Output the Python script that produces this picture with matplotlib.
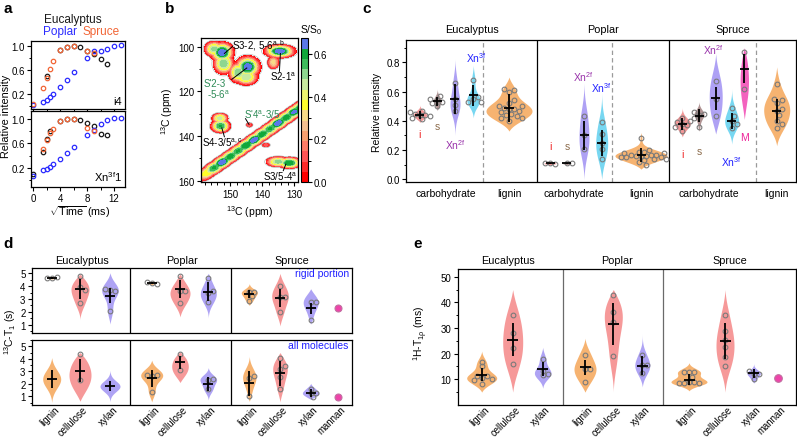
import numpy as np
import matplotlib
matplotlib.use('Agg')
import matplotlib.pyplot as plt
from matplotlib.colors import ListedColormap, BoundaryNorm
from matplotlib.ticker import MultipleLocator, FixedLocator
import matplotlib.transforms as mtrans

plt.rcParams['font.family'] = ['Liberation Sans', 'DejaVu Sans']
plt.rcParams['mathtext.fontset'] = 'custom'
plt.rcParams['mathtext.rm'] = 'Liberation Sans'
plt.rcParams['mathtext.it'] = 'Liberation Sans:italic'
plt.rcParams['mathtext.default'] = 'regular'
plt.rcParams['font.size'] = 7
plt.rcParams['axes.linewidth'] = 0.9

# ---------------- DATA ----------------
# panel a : build-up curves (x = sqrt(time))
a_x_i4_euc = [2, 4, 5, 6, 7, 8, 9, 10, 11]
a_i4_euc = [0.51, 0.93, 0.99, 1.0, 0.99, 0.92, 0.87, 0.79, 0.71]
a_x_i4_pop = [0, 1.5, 2, 2.5, 3, 4, 5, 6, 8, 9, 10, 11, 12, 13]
a_i4_pop = [0.02, 0.07, 0.10, 0.15, 0.20, 0.32, 0.44, 0.57, 0.81, 0.92, 0.92, 0.96, 1.0, 1.02]
a_x_i4_spr = [0, 1.5, 2, 2.5, 3, 4, 5, 6, 8, 9]
a_i4_spr = [0.03, 0.30, 0.47, 0.62, 0.75, 0.93, 0.99, 1.01, 0.92, 0.88]

a_x_xn_euc = [0, 1.5, 2, 2.5, 4, 5, 6, 7, 8, 9, 10, 11]
a_xn_euc = [0.11, 0.46, 0.67, 0.81, 0.97, 1.0, 1.0, 0.98, 0.94, 0.88, 0.75, 0.74]
a_x_xn_pop = [0, 1.5, 2, 2.5, 3, 4, 5, 6, 8, 9, 10, 11, 12, 13]
a_xn_pop = [0.065, 0.16, 0.19, 0.21, 0.26, 0.35, 0.44, 0.54, 0.74, 0.82, 0.92, 0.98, 1.01, 1.02]
a_x_xn_spr = [1.5, 2, 2.5, 3, 4, 5, 6, 8, 9]
a_xn_spr = [0.51, 0.66, 0.77, 0.84, 0.97, 1.0, 1.0, 0.86, 0.81]

# panel b : 2D spectrum peaks (ppm)
b_peak_x = [152.5, 155.0, 152.0, 134.5, 137.0, 136.5, 144.5, 147.5, 145.0, 153.2, 153.0, 144.0, 138.8, 135.0, 131.5]
b_peak_y = [102.5, 101.0, 107.5, 102.0, 101.5, 107.0, 109.0, 111.5, 113.5, 132.0, 135.5, 135.0, 144.0, 151.5, 152.0]
b_peak_amp = [0.66, 0.50, 0.52, 0.66, 0.35, 0.30, 0.66, 0.52, 0.48, 0.45, 0.58, 0.12, 0.12, 0.50, 0.62]
b_peak_sx = [1.6, 1.3, 1.4, 2.1, 1.0, 0.8, 1.7, 1.3, 1.6, 1.1, 1.3, 0.5, 0.6, 1.6, 1.6]
b_peak_sy = [2.0, 1.5, 2.1, 1.3, 1.0, 1.3, 2.1, 2.0, 1.6, 1.0, 1.3, 0.5, 0.5, 1.0, 1.1]
b_diag_x = [157.3, 155.0, 152.5, 150.0, 147.5, 145.0, 142.5, 140.0, 137.5, 135.0, 132.5, 130.0, 128.0]
b_diag_amp = [0.38, 0.58, 0.66, 0.60, 0.58, 0.62, 0.66, 0.60, 0.58, 0.66, 0.60, 0.64, 0.60]
b_diag_offset = -0.8

# panel c : relative intensity
c_sections = ['Eucalyptus', 'Poplar', 'Spruce']
c_groups = ['i', 's', 'Xn2f', 'Xn3f', 'lignin',
            'i', 's', 'Xn2f', 'Xn3f', 'lignin',
            'i', 's', 'Xn2f', 'Xn3f', 'M', 'lignin']
c_means = [0.44, 0.535, 0.55, 0.575, 0.49, 0.11, 0.11, 0.30, 0.25, 0.165,
           0.38, 0.435, 0.555, 0.40, 0.757, 0.47]
c_sds = [0.03, 0.03, 0.10, 0.07, 0.095, 0.005, 0.005, 0.10, 0.09, 0.048,
         0.042, 0.043, 0.08, 0.057, 0.10, 0.082]
c_points = [
    [0.41, 0.42, 0.43, 0.44, 0.44, 0.45, 0.46, 0.47],
    [0.50, 0.52, 0.53, 0.54, 0.55, 0.57],
    [0.66, 0.55, 0.51, 0.47],
    [0.68, 0.56, 0.55, 0.53, 0.53],
    [0.62, 0.61, 0.60, 0.54, 0.52, 0.50, 0.50, 0.49, 0.48, 0.48, 0.47, 0.46, 0.45, 0.44, 0.43, 0.42, 0.42, 0.40],
    [0.105, 0.11, 0.115],
    [0.11, 0.11],
    [0.43, 0.30, 0.21],
    [0.39, 0.31, 0.25, 0.21, 0.14],
    [0.28, 0.20, 0.19, 0.19, 0.18, 0.18, 0.17, 0.17, 0.17, 0.16, 0.16, 0.16, 0.15, 0.15, 0.15, 0.14, 0.14, 0.13, 0.12, 0.10],
    [0.33, 0.36, 0.37, 0.38, 0.39, 0.40, 0.42],
    [0.36, 0.42, 0.44, 0.45, 0.46],
    [0.67, 0.55, 0.43],
    [0.485, 0.43, 0.40, 0.38, 0.35],
    [0.87, 0.62],
    [0.65, 0.55, 0.54, 0.52, 0.48, 0.47, 0.44, 0.40, 0.38, 0.35],
]
c_lo = [0.39, 0.47, 0.30, 0.42, 0.33, 0.10, 0.10, 0.0, 0.0, 0.07, 0.29, 0.33, 0.31, 0.24, 0.41, 0.23]
c_hi = [0.515, 0.62, 0.82, 0.78, 0.70, 0.12, 0.12, 0.66, 0.595, 0.32, 0.51, 0.57, 0.86, 0.62, 0.90, 0.77]
c_xlabels = ['carbohydrate', 'lignin', 'carbohydrate', 'lignin', 'carbohydrate', 'lignin']

# panel d : 13C-T1 (s)
d_cats = ['lignin', 'cellulose', 'xylan', 'lignin', 'cellulose', 'xylan',
          'lignin', 'cellulose', 'xylan', 'mannan']
d_top_means = [4.65, 3.8, 3.26, 4.25, 3.75, 3.57, 3.39, 3.07, 2.27]
d_top_sds = [0.06, 0.78, 0.58, 0.07, 0.71, 0.72, 0.32, 0.71, 0.43]
d_top_points = [[4.6, 4.65, 4.7], [4.8, 3.95, 3.7, 2.7], [3.75, 3.6, 3.7, 2.1],
                [4.2, 4.25, 4.3], [4.8, 3.6, 3.65, 2.7], [4.6, 3.6, 3.5, 2.8],
                [3.57, 3.57, 3.25, 2.87], [3.98, 3.13, 3.13, 2.0], [2.74, 2.79, 1.38]]
d_top_lo = [4.55, 1.3, 1.05, 4.1, 1.6, 1.5, 2.5, 0.9, 1.05]
d_top_hi = [4.78, 4.95, 5.05, 4.4, 4.95, 5.0, 4.2, 5.0, 3.8]
d_top_mannan = 2.27
d_bot_means = [2.38, 3.05, 1.8, 2.44, 3.72, 1.98, 2.06, 2.86, 1.26]
d_bot_sds = [0.72, 0.9, 0.4, 0.7, 0.5, 0.55, 1.0, 1.0, 0.33]
d_bot_points = [[], [4.35, 2.3], [], [2.72, 2.72, 2.62, 1.37], [4.35, 3.1],
                [2.42, 2.3, 1.58], [2.6, 2.45, 1.0], [4.04, 3.4, 3.18, 2.52, 1.58],
                [1.62, 1.25, 1.25, 0.92]]
d_bot_lo = [0.5, 0.6, 0.55, 0.55, 2.1, 0.7, 0.6, 0.55, 0.75]
d_bot_hi = [4.1, 4.5, 3.1, 3.9, 4.55, 3.3, 4.2, 4.5, 2.3]
d_bot_mannan = 0.92

# panel e : 1H-T1rho (ms)
e_means = [11.8, 25.5, 14.0, 14.7, 31.6, 15.3, 9.9, 25.1, 12.4]
e_sds = [2.6, 6.4, 2.6, 3.0, 8.2, 3.8, 2.1, 7.0, 1.8]
e_points = [[16.9, 15.0, 11.4, 10.1, 11.4, 10.5, 9.8, 8.1], [35.1, 28.1, 22.2, 16.0],
            [17.9, 13.4, 12.1, 11.6], [19.5, 14.0, 14.0, 9.1], [43.0, 36.1, 32.2, 19.2],
            [19.5, 15.6, 15.6, 12.5], [13.0, 13.0, 12.8, 10.8, 9.1, 9.1, 8.6, 8.6, 8.6],
            [35.1, 29.0, 25.5, 22.5, 18.6, 15.1], [13.4, 12.1, 12.1, 10.2]]
e_lo = [5, 5, 6.5, 5, 5, 7, 5.5, 5, 8.5]
e_hi = [21, 45, 22.5, 26, 45, 28, 16.5, 45, 16.5]
e_mannan = 10.4

# ---------------- STYLE / LAYOUT ----------------
W, H = 797, 439
fig = plt.figure(figsize=(W / 100, H / 100), dpi=100)


def add_ax(l, t, r, b):
    return fig.add_axes([l / W, 1 - b / H, (r - l) / W, (b - t) / H])


def style_ax(ax):
    ax.tick_params(which='major', direction='out', length=3, width=0.8, labelsize=7, pad=1.5)
    ax.tick_params(which='minor', direction='out', length=1.8, width=0.7)


col = {'i': '#f07d7d', 's': '#9c7878', 'Xn2f': '#9a8af2', 'Xn3f': '#55cdee',
       'lignin': '#f4a04e', 'M': '#f03cae', 'cellulose': '#f48080', 'xylan': '#9a8cf2',
       'mannan': '#ee44aa'}


def swarm(vals, ppu, d=5.0):
    vals = np.asarray(vals, float)
    offs = np.zeros(len(vals))
    placed = []
    order = np.argsort(np.abs(vals - np.median(vals)))
    for i in order:
        y = vals[i] * ppu
        done = False
        for k in range(0, 60):
            for s in ([0] if k == 0 else [k, -k]):
                dx = s * d * 0.5
                if all((dx - px) ** 2 + (y - py) ** 2 >= (d * 0.92) ** 2 for px, py in placed):
                    done = True
                    break
            if done:
                break
        placed.append((dx, y))
        offs[i] = dx
    return offs


def violin(ax, pos, pts, mean, sd, lo, hi, hw, color, ppu, show_pts=True, cross=4.5):
    ys = np.linspace(lo, hi, 300)
    data = np.asarray(pts, float) if len(pts) > 1 else np.array([mean])
    if len(pts) > 1 and np.std(data) > 0:
        bw = max(np.std(data, ddof=1) * len(data) ** (-0.2), (hi - lo) / 8)
    else:
        bw = max(sd, (hi - lo) / 6)
    dens = np.zeros_like(ys)
    for v in data:
        dens += np.exp(-0.5 * ((ys - v) / bw) ** 2)
    base = dens[0] + (dens[-1] - dens[0]) * (ys - lo) / (hi - lo)
    dens = np.clip(dens - base, 0, None)
    if dens.max() > 0:
        dens = dens / dens.max() * hw
    ax.fill_betweenx(ys, pos - dens, pos + dens, color=color, lw=0, alpha=0.8, zorder=2)
    if show_pts and len(pts) > 0:
        offs = swarm(pts, ppu)
        ax.plot(pos + offs, pts, 'o', ms=3.4, mfc='none', mec='#7a7a7a', mew=0.8, zorder=3)
    ax.plot([pos, pos], [mean - sd, mean + sd], color='black', lw=1.3, zorder=4, solid_capstyle='butt')
    ax.plot([pos - cross, pos + cross], [mean, mean], color='black', lw=1.3, zorder=4, solid_capstyle='butt')


def ppu_of(ax):
    bb = ax.get_position()
    y0, y1 = ax.get_ylim()
    return bb.height * H / (y1 - y0)


def rot_labels(ax, labels):
    ax.set_xticklabels(labels, rotation=45, ha='right', va='center', rotation_mode='anchor', fontsize=6.9)
    ax.tick_params(axis='x', length=0, pad=2.0)
    for lab in ax.get_xticklabels():
        lab.set_transform(lab.get_transform() + mtrans.ScaledTranslation(6 / 100, 0, fig.dpi_scale_trans))


# ---------------- PANEL a ----------------
ca_euc, ca_pop, ca_spr = '#1a1a1a', '#2b2bff', '#f26535'
ax_a1 = add_ax(31, 42, 125, 110)
ax_a2 = add_ax(31, 112, 125, 188)
for ax, sets, lbl in [
    (ax_a1, [(a_x_i4_euc, a_i4_euc, ca_euc), (a_x_i4_pop, a_i4_pop, ca_pop), (a_x_i4_spr, a_i4_spr, ca_spr)], 'i4'),
    (ax_a2, [(a_x_xn_euc, a_xn_euc, ca_euc), (a_x_xn_pop, a_xn_pop, ca_pop), (a_x_xn_spr, a_xn_spr, ca_spr)], 'Xn$^{3f}$1')]:
    for xs, ys, c in sets:
        ax.plot(xs, ys, 'o', ms=3.2, mfc='none', mec=c, mew=0.9, ls='none')
    ax.set_xlim(-0.3, 13.6)
    ax.yaxis.set_major_locator(FixedLocator([0.2, 0.6, 1.0]))
    ax.yaxis.set_minor_locator(FixedLocator([0.0, 0.4, 0.8]))
    ax.xaxis.set_major_locator(MultipleLocator(4))
    ax.xaxis.set_minor_locator(MultipleLocator(2))
    style_ax(ax)
    ax.text(0.97, 0.05, lbl, transform=ax.transAxes, ha='right', va='bottom', fontsize=8)
ax_a1.set_ylim(-0.045, 1.087)
ax_a2.set_ylim(-0.11, 1.13)
ax_a1.tick_params(labelbottom=False)
ax_a2.tick_params(axis='x', pad=1)
fig.text(73 / W, 1 - 20 / H, 'Eucalyptus', ha='center', va='center', fontsize=8.5, color=ca_euc)
fig.text(60 / W, 1 - 32 / H, 'Poplar', ha='center', va='center', fontsize=8.5, color=ca_pop)
fig.text(101 / W, 1 - 32 / H, 'Spruce', ha='center', va='center', fontsize=8.5, color=ca_spr)
fig.text(6.5 / W, 1 - 116 / H, 'Relative intensity', rotation=90, ha='center', va='center', fontsize=7.8)
fig.text(80 / W, 1 - 212.5 / H, r'$\sqrt{Time}$ (ms)', ha='center', va='center', fontsize=7.8)

# ---------------- PANEL b ----------------
ax_b = add_ax(200.7, 39.3, 298, 183.3)
gx = np.linspace(127, 161, 340)
gy = np.linspace(94, 163, 460)
X, Y = np.meshgrid(gx, gy)
Z = np.zeros_like(X)
PW = 1.5  # flatter-topped line shape
for x0, y0, a0, sx, sy in zip(b_peak_x, b_peak_y, b_peak_amp, b_peak_sx, b_peak_sy):
    r2 = (X - x0) ** 2 / (2 * (1.2 * sx) ** 2) + (Y - y0) ** 2 / (2 * (1.2 * sy) ** 2)
    Z = np.maximum(Z, a0 * np.exp(-r2 ** PW))
for x0, a0 in zip(b_diag_x, b_diag_amp):
    y0 = x0 + b_diag_offset
    u = ((X - x0) + (Y - y0)) / np.sqrt(2)
    v = ((X - x0) - (Y - y0)) / np.sqrt(2)
    r2 = u ** 2 / (2 * 2.4 ** 2) + v ** 2 / (2 * 1.3 ** 2)
    Z = np.maximum(Z, a0 * np.exp(-r2 ** PW))
cb_colors = ['#ff0000', '#ff2a2a', '#ff5555', '#ff7c66', '#f8a070', '#f4c090', '#f8dc88',
             '#ffff2a', '#eef470', '#c8eaa0', '#8ed690', '#3ebc5c', '#10a83a', '#5a78e8']
levels = np.linspace(0, 0.672, 15)
cmap = ListedColormap(cb_colors)
norm = BoundaryNorm(levels, cmap.N)
Zm = np.ma.masked_less(np.minimum(Z, 0.668), 0.03)
cf = ax_b.contourf(X, Y, Zm, levels=levels, cmap=cmap, norm=norm, zorder=1)
ax_b.contour(X, Y, Z, levels=[0.012], colors='#b5b5b5', linewidths=0.5, zorder=2)
ax_b.set_xlim(159.2, 128.8)
ax_b.set_ylim(160.7, 96.2)
ax_b.xaxis.set_major_locator(MultipleLocator(10))
ax_b.xaxis.set_minor_locator(MultipleLocator(2))
ax_b.yaxis.set_major_locator(MultipleLocator(20))
ax_b.yaxis.set_minor_locator(MultipleLocator(10))
style_ax(ax_b)
ax_b.set_xlabel('$^{13}$C (ppm)', fontsize=7.5, labelpad=3)
ax_b.set_ylabel('$^{13}$C (ppm)', fontsize=7.5, labelpad=2)
cax = add_ax(301, 39.3, 307.7, 183.3)
cbar = fig.colorbar(cf, cax=cax)
cbar.set_ticks([0.0, 0.2, 0.4, 0.6])
cbar.ax.yaxis.set_minor_locator(MultipleLocator(0.1))
cbar.ax.tick_params(which='major', length=3, width=0.8, labelsize=7, pad=1.5)
cbar.ax.tick_params(which='minor', length=1.8, width=0.7)
cbar.outline.set_linewidth(0.8)
fig.text(311 / W, 1 - 30 / H, 'S/S$_0$', ha='center', va='center', fontsize=7.5)

green_t = '#2e8b57'
ann = [
    ('S3-2, 5-6$^{a,b}$', 149.5, 98.8, 'black', (149.2, 99.8), (151.8, 103.0)),
    ('S2-1$^a$', 137.5, 113.2, 'black', (134.6, 111.0), (134.3, 103.0)),
    ("S'2-3", 158.3, 116.0, green_t, (149.5, 114.6), (144.8, 109.5)),
    ('-5-6$^a$', 157.2, 121.0, green_t, None, None),
    ("S'4$^a$-3/5", 145.8, 130.1, green_t, (145.2, 132.2), (144.1, 134.8)),
    ('S4-3/5$^{a,c}$', 158.8, 142.5, 'black', (151.8, 140.3), (152.6, 136.3)),
    ('S3/5-4$^a$', 139.6, 157.7, 'black', (133.4, 155.5), (132.6, 152.6)),
]
for t, tx, ty, c, p0, p1 in ann:
    ax_b.text(tx, ty, t, color=c, fontsize=7, ha='left', va='center', zorder=5)
    if p0 is not None:
        ax_b.plot([p0[0], p1[0]], [p0[1], p1[1]], color='black', lw=0.7, zorder=5)

# ---------------- PANEL c ----------------
ax_c = add_ax(406, 40.7, 796, 183.3)
ax_c.set_xlim(406, 796)
ax_c.set_ylim(-0.02, 0.955)
c_pos = [420, 437.3, 455, 473.3, 509, 550, 566.7, 584, 601.7, 641,
         682.3, 699, 715.7, 731.7, 744.3, 776.7]
c_hw = [6.5, 4, 5, 6.5, 23, 6, 4.5, 5, 6, 26, 8, 5, 6.5, 7, 4.2, 13]
ppu_c = ppu_of(ax_c)
for k in range(len(c_groups)):
    violin(ax_c, c_pos[k], c_points[k], c_means[k], c_sds[k], c_lo[k], c_hi[k],
           c_hw[k], col[c_groups[k]], ppu_c)
for xs in [537.3, 669.3]:
    ax_c.axvline(xs, color='black', lw=0.9)
for xs in [483.3, 611.7, 756]:
    ax_c.axvline(xs, color='#9a9a9a', lw=0.9, ls=(0, (3.5, 2.5)))
ax_c.yaxis.set_major_locator(MultipleLocator(0.2))
ax_c.yaxis.set_minor_locator(MultipleLocator(0.1))
ax_c.yaxis.set_major_formatter(matplotlib.ticker.FormatStrFormatter('%.1f'))
style_ax(ax_c)
ax_c.set_xticks([445.7, 509, 574, 641, 709, 776.7])
ax_c.set_xticklabels(c_xlabels, fontsize=7.5)
ax_c.tick_params(axis='x', length=0, pad=4)
ax_c.set_ylabel('Relative intensity', fontsize=7.5, labelpad=3)
for name, xc in zip(c_sections, [471.7, 603, 733]):
    fig.text(xc / W, 1 - 30 / H, name, ha='center', va='center', fontsize=7.8)
c_lab = [
    ('i', 419.3, 135, '#ee2222'), ('s', 437.3, 127.3, '#8b6a4a'), ('Xn$^{2f}$', 455, 145, '#9933aa'),
    ('Xn$^{3f}$', 476.7, 58.3, '#2222ff'),
    ('i', 550, 146.7, '#ee2222'), ('s', 567.3, 146.7, '#8b6a4a'), ('Xn$^{2f}$', 583.3, 76.7, '#9933aa'),
    ('Xn$^{3f}$', 601.7, 88.3, '#2222ff'),
    ('i', 682.3, 155, '#ee2222'), ('s', 699, 151.7, '#8b6a4a'), ('Xn$^{2f}$', 713.3, 50, '#9933aa'),
    ('Xn$^{3f}$', 731.7, 162.3, '#2222ff'), ('M', 744.3, 138.3, '#ee2299'),
]
for t, px, py, c in c_lab:
    fig.text(px / W, 1 - py / H, t, ha='center', va='center', fontsize=7.5, color=c)

# ---------------- PANEL d ----------------
d_pos = [51.7, 80, 110, 151.7, 180, 208.3, 249.3, 280, 310.7, 338.3]
d_top_hw = [4.5, 9, 8.3, 4.5, 10, 8, 8, 8.3, 7.5]
d_bot_hw = [9, 11, 10, 11, 8.3, 8.3, 6.7, 7.3, 8.3]
ax_d1 = add_ax(31.7, 269.3, 351.7, 334)
ax_d2 = add_ax(31.7, 340.7, 351.7, 406)
ax_d1.set_ylim(0.35, 5.39)
ax_d2.set_ylim(0.30, 5.53)
for ax, means, sds, pts, lo, hi, hws, mann in [
    (ax_d1, d_top_means, d_top_sds, d_top_points, d_top_lo, d_top_hi, d_top_hw, d_top_mannan),
    (ax_d2, d_bot_means, d_bot_sds, d_bot_points, d_bot_lo, d_bot_hi, d_bot_hw, d_bot_mannan)]:
    ax.set_xlim(31.7, 351.7)
    ppu = ppu_of(ax)
    for k in range(9):
        violin(ax, d_pos[k], pts[k], means[k], sds[k], lo[k], hi[k], hws[k],
               col[d_cats[k]], ppu, cross=5)
    ax.plot([d_pos[9]], [mann], 'o', ms=5, mfc=col['mannan'], mec='#c070a0', mew=0.8, zorder=4)
    for xs in [130, 230.7]:
        ax.axvline(xs, color='black', lw=0.9)
    ax.yaxis.set_major_locator(MultipleLocator(1))
    ax.yaxis.set_minor_locator(MultipleLocator(0.5))
    style_ax(ax)
ax_d1.set_xticks([])
ax_d2.set_xticks(d_pos)
rot_labels(ax_d2, d_cats)
ax_d1.text(321.7, 5.0, 'rigid portion', ha='center', va='center', fontsize=7.5, color='#2020ff')
ax_d2.text(318.3, 5.1, 'all molecules', ha='center', va='center', fontsize=7.5, color='#2020ff')
for name, xc in zip(c_sections, [81.7, 181.7, 291.7]):
    fig.text(xc / W, 1 - 261 / H, name, ha='center', va='center', fontsize=7.8)
fig.text(10 / W, 1 - 332 / H, '$^{13}$C-T$_1$ (s)', rotation=90, ha='center', va='center', fontsize=7.5)

# ---------------- PANEL e ----------------
e_pos = [481.7, 512.7, 542.7, 585, 613.3, 642.3, 689, 725, 753.7, 778.3]
e_hw = [15, 10, 8.3, 11, 9, 7.5, 18, 9, 6.7]
ax_e = add_ax(457.7, 270, 795.7, 405.7)
ax_e.set_xlim(457.7, 795.7)
ax_e.set_ylim(0.1, 53)
ppu_e = ppu_of(ax_e)
for k in range(9):
    violin(ax_e, e_pos[k], e_points[k], e_means[k], e_sds[k], e_lo[k], e_hi[k], e_hw[k],
           col[d_cats[k]], ppu_e, cross=5.5)
ax_e.plot([e_pos[9]], [e_mannan], 'o', ms=5.5, mfc=col['mannan'], mec='#c070a0', mew=0.8, zorder=4)
for xs in [562.7, 663.3]:
    ax_e.axvline(xs, color='#6a6a6a', lw=0.9)
ax_e.yaxis.set_major_locator(MultipleLocator(10))
ax_e.yaxis.set_minor_locator(MultipleLocator(5))
style_ax(ax_e)
ax_e.set_xticks(e_pos)
rot_labels(ax_e, d_cats)
for name, xc in zip(c_sections, [508.3, 616.7, 730]):
    fig.text(xc / W, 1 - 261 / H, name, ha='center', va='center', fontsize=7.8)
fig.text(421 / W, 1 - 333 / H, r'$^{1}$H-T$_{1\rho}$ (ms)', rotation=90, ha='center', va='center', fontsize=7.5)

# panel letters
for t, px, py in [('a', 3, 9), ('b', 165, 9), ('c', 362, 9), ('d', 3, 244), ('e', 413, 244)]:
    fig.text(px / W, 1 - py / H, t, fontsize=11, fontweight='bold', ha='left', va='center')

fig.savefig('out.png', dpi=100)
